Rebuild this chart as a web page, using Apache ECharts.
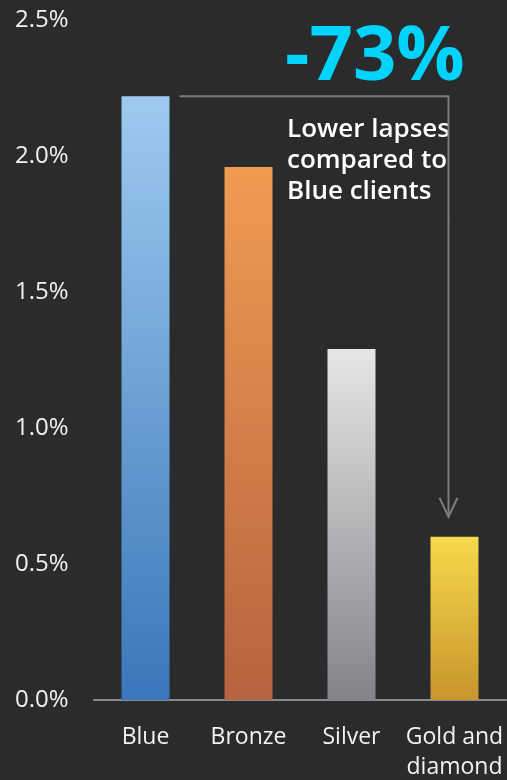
<!DOCTYPE html>
<html>
<head>
<meta charset="utf-8">
<script src="https://cdn.jsdelivr.net/npm/echarts@6/dist/echarts.min.js"></script>
<style>
  html, body { margin: 0; padding: 0; background: #2a2b2d; }
  #chart { width: 507px; height: 780px; }
</style>
</head>
<body>
<div id="chart"></div>
<script>
// Lapse rate by client tier
const categories = ['Blue', 'Bronze', 'Silver', 'Gold and\ndiamond'];
const lapseRates = [2.22, 1.96, 1.29, 0.60];
const yTicks = [0, 0.5, 1.0, 1.5, 2.0, 2.5];
// Top and bottom colours of each bar's gradient
const barTopColors = ['#9ecaef', '#f09b53', '#e6e6e7', '#f7d94b'];
const barBottomColors = ['#3a76ba', '#b6633f', '#838488', '#c8952d'];
const headline = '-73%';
const calloutLines = ['Lower lapses', 'compared to', 'Blue clients'];

const BG = '#2a2b2d';
const FONT = '"Open Sans", "Noto Sans", sans-serif';
const chart = echarts.init(document.getElementById('chart'));

const barData = lapseRates.map((v, i) => ({
  value: v,
  itemStyle: {
    color: new echarts.graphic.LinearGradient(0, 0, 0, 1, [
      { offset: 0, color: barTopColors[i] },
      { offset: 1, color: barBottomColors[i] }
    ])
  }
}));

chart.setOption({
  backgroundColor: BG,
  animation: false,
  grid: { left: 94, right: 1, top: 20, bottom: 80, outerBoundsMode: 'none', containLabel: false },
  xAxis: {
    type: 'category',
    data: categories,
    axisLine: { lineStyle: { color: '#8a8b8d', width: 2 } },
    axisTick: { show: false },
    axisLabel: {
      interval: 0,
      color: '#f2f2f2', fontFamily: FONT, fontSize: 23,
      margin: 22, lineHeight: 30, align: 'center'
    }
  },
  yAxis: {
    type: 'value',
    min: yTicks[0],
    max: yTicks[yTicks.length - 1],
    interval: 0.5,
    splitLine: { show: false },
    axisLine: { show: false },
    axisTick: { show: false },
    axisLabel: {
      color: '#f2f2f2', fontFamily: FONT, fontSize: 24,
      align: 'left', margin: 79,
      formatter: v => v.toFixed(1) + '%'
    }
  },
  series: [{
    type: 'bar',
    data: barData,
    barWidth: 48
  }]
});

// Callout: line from the top of the first bar across and down to the last bar
function drawCallout() {
  const first = chart.convertToPixel({ seriesIndex: 0 }, [0, lapseRates[0]]);
  const last = chart.convertToPixel({ seriesIndex: 0 }, [categories.length - 1, lapseRates[lapseRates.length - 1]]);
  const y0 = first[1];
  const xStart = first[0] + 34;
  const xEnd = last[0] - 6;
  const tipY = last[1] - 20;
  const lineColor = '#7b7c7e';
  const textX = 287;

  chart.setOption({
    graphic: [
      {
        type: 'text',
        left: textX, top: y0 + 18,
        style: {
          text: calloutLines.join('\n'),
          fill: '#ffffff', font: '600 26px ' + FONT, lineHeight: 31
        }
      },
      {
        // the text box ends at the vertical leader line
        type: 'rect',
        shape: { x: xEnd + 2, y: y0 + 10, width: 20, height: 110 },
        style: { fill: BG }
      },
      {
        type: 'polyline',
        shape: { points: [[xStart, y0], [xEnd, y0], [xEnd, tipY]] },
        style: { stroke: lineColor, lineWidth: 2, fill: null }
      },
      {
        type: 'polyline',
        shape: { points: [[xEnd - 9, tipY - 19], [xEnd, tipY], [xEnd + 9, tipY - 19]] },
        style: { stroke: lineColor, lineWidth: 2, fill: null }
      },
      {
        type: 'text',
        left: textX - 2, top: y0 - 76,
        style: {
          text: headline,
          fill: '#00d4fd', font: 'bold 76px ' + FONT
        }
      }
    ]
  });
}
drawCallout();
</script>
</body>
</html>
